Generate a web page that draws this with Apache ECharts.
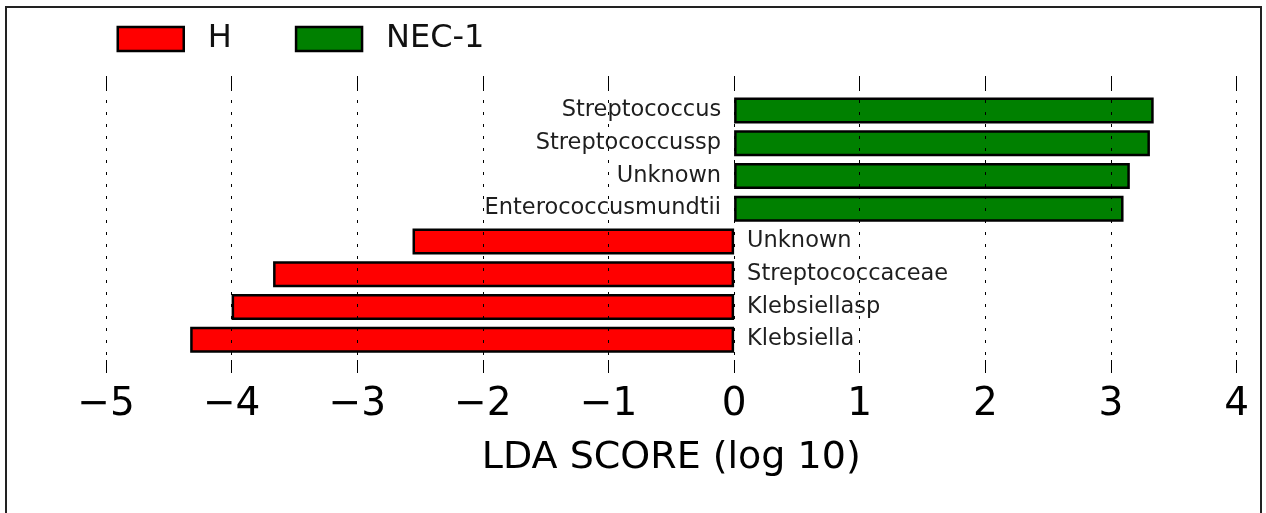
<!DOCTYPE html>
<html>
<head>
<meta charset="utf-8">
<script src="https://cdn.jsdelivr.net/npm/echarts@6/dist/echarts.min.js"></script>
<style>
  html, body { margin: 0; padding: 0; background: #fff; }
  #chart { width: 1266px; height: 513px; }
</style>
</head>
<body>
<div id="chart"></div>
<script>
const categories = ['Streptococcus', 'Streptococcussp', 'Unknown', 'Enterococcusmundtii', 'Unknown', 'Streptococcaceae', 'Klebsiellasp', 'Klebsiella'];
const necValues = [3.34, 3.31, 3.15, 3.10, '-', '-', '-', '-'];
const hValues = ['-', '-', '-', '-', -2.56, -3.67, -4.00, -4.33];
const seriesNames = ['H', 'NEC-1'];
const xMin = -5, xMax = 4, xStep = 1;

const chart = echarts.init(document.getElementById('chart'), null, { renderer: 'canvas' });
const FONT = 'DejaVu Sans';
const fmtTick = v => String(v).replace('-', '\u2212');

chart.setOption({
  animation: false,
  backgroundColor: '#fff',
  graphic: [{
    type: 'rect', silent: true, z: 100,
    shape: { x: 6, y: 7, width: 1255, height: 530 },
    style: { fill: 'none', stroke: '#222', lineWidth: 2 }
  }],
  legend: {
    data: seriesNames,
    left: 111.5, top: 18,
    orient: 'horizontal',
    itemWidth: 66, itemHeight: 24, itemGap: 63,
    icon: 'rect',
    itemStyle: { borderColor: '#000', borderWidth: 2.5 },
    textStyle: { fontFamily: FONT, fontSize: 32, color: '#111', padding: [0, 0, 0, 19] }
  },
  grid: [
    { left: 106, right: 29.4, top: 76, bottom: 140, containLabel: false },
    { left: 106, right: 29.4, top: 94, bottom: 157, containLabel: false }
  ],
  xAxis: [
    {
      gridIndex: 0, type: 'value', min: xMin, max: xMax, interval: xStep, position: 'bottom', z: 5,
      axisLine: { show: false },
      axisTick: { show: true, inside: true, length: 13, lineStyle: { color: '#000', width: 1 } },
      axisLabel: { show: true, margin: 12, fontFamily: FONT, fontSize: 39, color: '#000', formatter: fmtTick },
      splitLine: { show: true, lineStyle: { color: '#000', width: 1, type: [3, 9] } },
      name: 'LDA SCORE (log 10)', nameLocation: 'middle', nameGap: 66,
      nameTextStyle: { fontFamily: FONT, fontSize: 38, color: '#000' }
    },
    {
      gridIndex: 0, type: 'value', min: xMin, max: xMax, interval: xStep, position: 'top', z: 5,
      axisLine: { show: false },
      axisTick: { show: true, inside: true, length: 13, lineStyle: { color: '#000', width: 1 } },
      axisLabel: { show: false },
      splitLine: { show: false }
    },
    {
      gridIndex: 1, type: 'value', min: xMin, max: xMax, interval: xStep,
      axisLine: { show: false }, axisTick: { show: false }, axisLabel: { show: false }, splitLine: { show: false }
    }
  ],
  yAxis: [
    {
      gridIndex: 0, type: 'value', min: 0, max: 1,
      axisLine: { show: false }, axisTick: { show: false }, axisLabel: { show: false }, splitLine: { show: false }
    },
    {
      gridIndex: 1, type: 'category', data: categories, inverse: true,
      axisLine: { show: false }, axisTick: { show: false }, axisLabel: { show: false }, splitLine: { show: false }
    }
  ],
  series: [
    {
      name: 'H', type: 'bar', xAxisIndex: 2, yAxisIndex: 1,
      data: hValues, barWidth: 26, barGap: '-100%',
      itemStyle: { color: '#ff0000', borderColor: '#000', borderWidth: 2.5 },
      label: {
        show: true, position: 'right', distance: 13,
        fontFamily: FONT, fontSize: 22.5, color: '#1e1e1e',
        formatter: p => categories[p.dataIndex]
      }
    },
    {
      name: 'NEC-1', type: 'bar', xAxisIndex: 2, yAxisIndex: 1,
      data: necValues, barWidth: 26, barGap: '-100%',
      itemStyle: { color: '#008000', borderColor: '#000', borderWidth: 2.5 },
      label: {
        show: true, position: 'left', distance: 13,
        fontFamily: FONT, fontSize: 22.5, color: '#1e1e1e',
        formatter: p => categories[p.dataIndex]
      }
    }
  ]
});
</script>
</body>
</html>
